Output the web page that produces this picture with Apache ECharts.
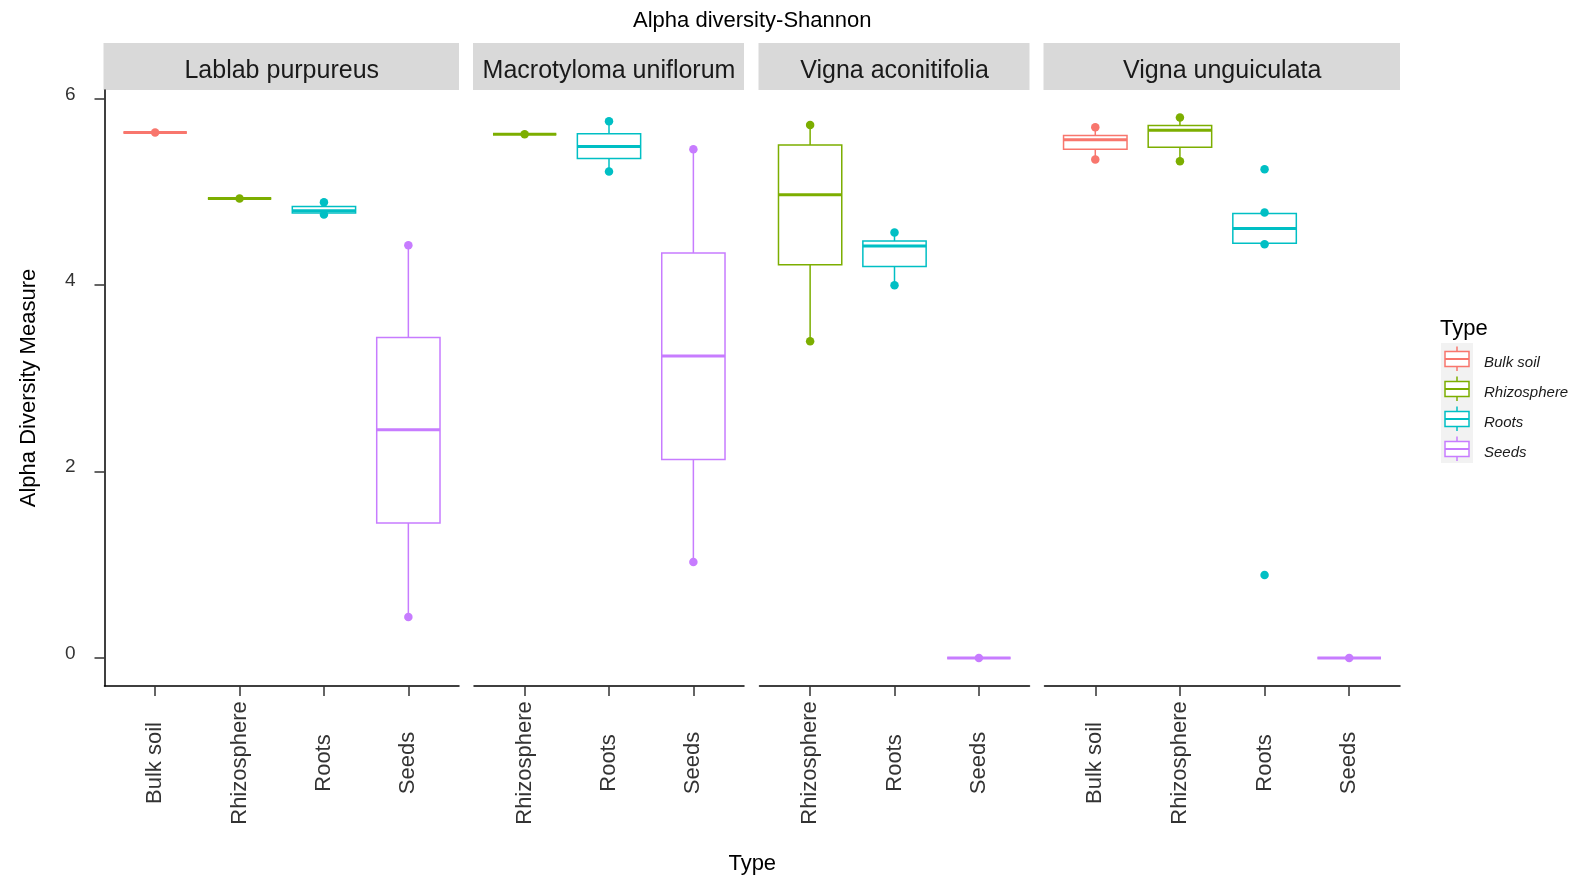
<!DOCTYPE html>
<html>
<head>
<meta charset="utf-8">
<script src="https://cdn.jsdelivr.net/npm/echarts@6/dist/echarts.min.js"></script>
<style>
  html, body { margin: 0; padding: 0; background: #ffffff; }
  #chart { width: 1573px; height: 878px; }
</style>
</head>
<body>
<div id="chart"></div>
<script>
// ---- data -------------------------------------------------------------
const PANELS = ['Lablab purpureus', 'Macrotyloma uniflorum', 'Vigna aconitifolia', 'Vigna unguiculata'];
const TYPES = ['Bulk soil', 'Rhizosphere', 'Roots', 'Seeds'];
const COLORS = ['#F8766D', '#7CAE00', '#00BFC4', '#C77CFF'];
const Y_TICKS = [0, 2, 4, 6];

// sample types present in each facet (indices into TYPES)
const LABLAB_TYPES = [0, 1, 2, 3];
const MACRO_TYPES = [1, 2, 3];
const ACONI_TYPES = [1, 2, 3];
const UNGUI_TYPES = [0, 1, 2, 3];

// box statistics per type: [lower whisker, Q1, median, Q3, upper whisker]
const LABLAB_BOX = [
  [5.64, 5.64, 5.64, 5.64, 5.64],
  [4.93, 4.93, 4.93, 4.93, 4.93],
  [4.76, 4.775, 4.80, 4.845, 4.89],
  [0.44, 1.45, 2.45, 3.44, 4.43]
];
const MACRO_BOX = [
  [5.62, 5.62, 5.62, 5.62, 5.62],
  [5.22, 5.36, 5.49, 5.625, 5.76],
  [1.03, 2.13, 3.24, 4.345, 5.46]
];
const ACONI_BOX = [
  [3.40, 4.22, 4.97, 5.505, 5.72],
  [4.00, 4.20, 4.42, 4.475, 4.565],
  [0, 0, 0, 0, 0]
];
const UNGUI_BOX = [
  [5.35, 5.46, 5.56, 5.606, 5.695],
  [5.33, 5.48, 5.664, 5.713, 5.80],
  [4.45, 4.45, 4.61, 4.77, 4.77],
  [0, 0, 0, 0, 0]
];

// plotted points per type (whisker ends and outliers)
const LABLAB_PTS = [[5.64], [4.93], [4.76, 4.89], [0.44, 4.43]];
const MACRO_PTS = [[5.62], [5.22, 5.76], [1.03, 5.46]];
const ACONI_PTS = [[3.40, 5.72], [4.00, 4.565], [0]];
const UNGUI_PTS = [[5.35, 5.695], [5.33, 5.80], [0.89, 4.44, 4.78, 5.245], [0]];

const FACETS = [
  { name: PANELS[0], types: LABLAB_TYPES, box: LABLAB_BOX, pts: LABLAB_PTS },
  { name: PANELS[1], types: MACRO_TYPES, box: MACRO_BOX, pts: MACRO_PTS },
  { name: PANELS[2], types: ACONI_TYPES, box: ACONI_BOX, pts: ACONI_PTS },
  { name: PANELS[3], types: UNGUI_TYPES, box: UNGUI_BOX, pts: UNGUI_PTS }
];

// ---- layout -----------------------------------------------------------
const FONT = "'Liberation Sans', Arial, sans-serif";
const PANEL_X = [[104.5, 459], [474, 744], [759.5, 1029.5], [1044.5, 1400]];
const PLOT_TOP = 90;
const PLOT_BOTTOM = 686;
const STRIP_TOP = 43;
const Y_MIN = -0.3;
const Y_MAX = 6.095;
const BOX_WIDTH = 0.75;
const AXIS_TEXT = '#333333';

function renderBox(params, api) {
  const x = api.value(0);
  const color = COLORS[api.value(6)];
  const lo = api.coord([x, api.value(1)]);
  const q1 = api.coord([x, api.value(2)]);
  const md = api.coord([x, api.value(3)]);
  const q3 = api.coord([x, api.value(4)]);
  const hi = api.coord([x, api.value(5)]);
  const hw = api.size([BOX_WIDTH, 0])[0] / 2;
  const line = { stroke: color, lineWidth: 1.5 };
  return {
    type: 'group',
    children: [
      { type: 'line', shape: { x1: hi[0], y1: hi[1], x2: q3[0], y2: q3[1] }, style: line },
      { type: 'line', shape: { x1: lo[0], y1: lo[1], x2: q1[0], y2: q1[1] }, style: line },
      { type: 'rect', shape: { x: md[0] - hw, y: q3[1], width: hw * 2, height: q1[1] - q3[1] },
        style: { fill: '#ffffff', stroke: color, lineWidth: 1.5 } },
      { type: 'line', shape: { x1: md[0] - hw, y1: md[1], x2: md[0] + hw, y2: md[1] },
        style: { stroke: color, lineWidth: 3 } }
    ]
  };
}

const grids = [], xAxes = [], yAxes = [], series = [], graphics = [];

FACETS.forEach((f, i) => {
  const [x0, x1] = PANEL_X[i];
  const n = f.types.length;
  const pos = f.types.map((t, k) => k + 1);

  grids.push({ left: x0, top: PLOT_TOP, width: x1 - x0, height: PLOT_BOTTOM - PLOT_TOP, outerBoundsMode: 'none' });

  xAxes.push({
    gridIndex: i, type: 'value', min: 0.4, max: n + 0.6,
    splitLine: { show: false },
    axisLine: { show: true, onZero: false, lineStyle: { color: '#000000', width: 1.5 } },
    axisTick: { show: true, customValues: pos, length: 10, lineStyle: { color: AXIS_TEXT, width: 1.5 } },
    axisLabel: {
      show: true, customValues: pos,
      formatter: v => TYPES[f.types[Math.round(v) - 1]],
      rotate: 90, align: 'center', verticalAlign: 'middle', margin: 77,
      fontSize: 22, fontFamily: FONT, color: AXIS_TEXT
    }
  });

  const first = i === 0;
  yAxes.push({
    gridIndex: i, type: 'value', min: Y_MIN, max: Y_MAX,
    splitLine: { show: false },
    axisLine: { show: first, onZero: false, lineStyle: { color: '#000000', width: 1.5 } },
    axisTick: { show: first, customValues: Y_TICKS, length: 10, lineStyle: { color: AXIS_TEXT, width: 1.5 } },
    axisLabel: {
      show: first, customValues: Y_TICKS, margin: 29,
      verticalAlign: 'bottom', lineHeight: 9,
      fontSize: 19, fontFamily: FONT, color: AXIS_TEXT
    },
    name: first ? 'Alpha Diversity Measure' : '',
    nameLocation: 'middle', nameGap: 65, nameRotate: 90,
    nameTextStyle: { fontSize: 22, fontFamily: FONT, color: '#000000' }
  });

  series.push({
    type: 'custom', xAxisIndex: i, yAxisIndex: i,
    data: f.types.map((t, k) => [k + 1].concat(f.box[k], [t])),
    encode: { x: 0, y: [1, 2, 3, 4, 5] },
    renderItem: renderBox,
    silent: true, z: 2
  });

  const pts = [];
  f.types.forEach((t, k) => f.pts[k].forEach(v => pts.push([k + 1, v, t])));
  series.push({
    type: 'scatter', xAxisIndex: i, yAxisIndex: i,
    data: pts, encode: { x: 0, y: 1 },
    symbol: 'circle', symbolSize: 8.5,
    itemStyle: { color: p => COLORS[p.value[2]], opacity: 1 },
    silent: true, z: 3
  });

  // facet strip
  graphics.push({
    type: 'rect', shape: { x: x0 - 1, y: STRIP_TOP, width: x1 - x0 + 1, height: PLOT_TOP - STRIP_TOP },
    style: { fill: '#D9D9D9' }, silent: true
  });
  graphics.push({
    type: 'text', x: (x0 + x1) / 2, y: 71.5,
    style: { text: f.name, fontSize: 25, fontFamily: FONT, fill: '#1A1A1A', align: 'center', verticalAlign: 'middle' },
    silent: true
  });
});

// main title and x-axis title
const PLOT_CENTER = (PANEL_X[0][0] + PANEL_X[3][1]) / 2;
graphics.push({
  type: 'text', x: PLOT_CENTER, y: 21,
  style: { text: 'Alpha diversity-Shannon', fontSize: 22, fontFamily: FONT, fill: '#000000', align: 'center', verticalAlign: 'middle' }
});
graphics.push({
  type: 'text', x: PLOT_CENTER, y: 864,
  style: { text: 'Type', fontSize: 22, fontFamily: FONT, fill: '#000000', align: 'center', verticalAlign: 'middle' }
});

// legend
const LEG_X = 1441, LEG_Y = 343, KEY_W = 32, KEY_H = 30;
graphics.push({
  type: 'text', x: LEG_X - 1, y: 329,
  style: { text: 'Type', fontSize: 22, fontFamily: FONT, fill: '#000000', align: 'left', verticalAlign: 'middle' }
});
graphics.push({
  type: 'rect', shape: { x: LEG_X, y: LEG_Y, width: KEY_W, height: KEY_H * TYPES.length },
  style: { fill: '#F2F2F2' }
});
TYPES.forEach((t, k) => {
  const top = LEG_Y + KEY_H * k;
  const cx = LEG_X + KEY_W / 2;
  const c = COLORS[k];
  const ls = { stroke: c, lineWidth: 1.5 };
  graphics.push({ type: 'line', shape: { x1: cx, y1: top + 3.5, x2: cx, y2: top + 8.5 }, style: ls });
  graphics.push({ type: 'line', shape: { x1: cx, y1: top + 23.5, x2: cx, y2: top + 28 }, style: ls });
  graphics.push({ type: 'rect', shape: { x: cx - 12, y: top + 8.5, width: 24, height: 15 }, style: { fill: '#ffffff', stroke: c, lineWidth: 1.5 } });
  graphics.push({ type: 'line', shape: { x1: cx - 12, y1: top + 16, x2: cx + 12, y2: top + 16 }, style: { stroke: c, lineWidth: 2 } });
  graphics.push({
    type: 'text', x: LEG_X + 43, y: top + 20,
    style: { text: t, fontSize: 15, fontStyle: 'italic', fontFamily: FONT, fill: '#1A1A1A', align: 'left', verticalAlign: 'middle' }
  });
});

const chart = echarts.init(document.getElementById('chart'), null, { renderer: 'canvas' });
chart.setOption({
  backgroundColor: '#ffffff',
  animation: false,
  textStyle: { fontFamily: FONT },
  grid: grids,
  xAxis: xAxes,
  yAxis: yAxes,
  series: series,
  graphic: graphics
});
</script>
</body>
</html>
